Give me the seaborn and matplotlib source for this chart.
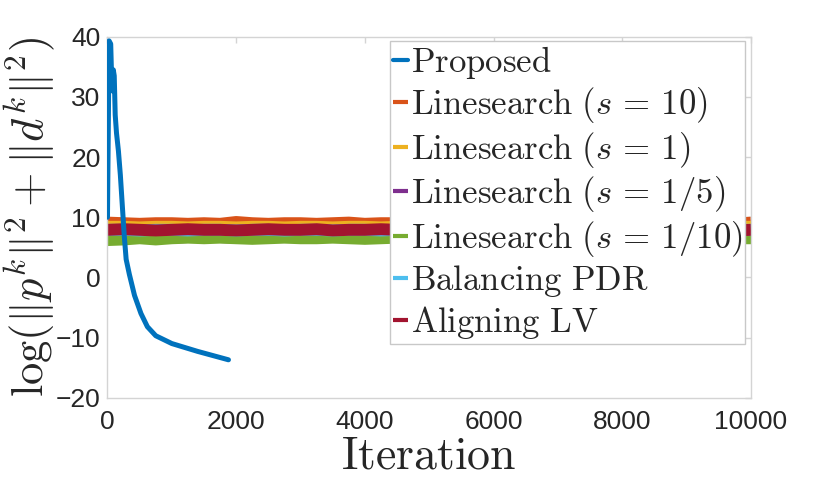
import numpy as np
import pandas as pd
import seaborn as sns
import matplotlib.pyplot as plt

# Proposed method:
prop_iter = [0, 25, 50, 70, 90, 105, 120, 140, 170, 200, 230, 260, 290, 340,
             420, 520, 620, 750, 1000, 1400, 1880]
prop_val = [10, 39.3, 38.8, 31, 34.5, 33.5, 27, 24, 21, 17, 12, 7, 3, 0.5,
            -3, -6, -8.2, -9.7, -11, -12.3, -13.7]

# the other methods, sampled every 250 iterations (band centres)
iters = list(range(0, 10001, 250))
ls10 = [9.1, 9.0, 8.9, 9.0, 9.0, 8.9, 9.0, 8.9, 9.2, 9.0, 8.9, 9.0, 9.0, 8.9,
        9.0, 9.1, 8.9, 9.0, 9.0, 9.1, 8.9, 9.0, 8.9, 9.0, 9.0, 8.9, 9.0, 9.1,
        9.0, 8.9, 9.0, 9.0, 8.9, 9.0, 9.1, 9.0, 8.9, 9.0, 9.0, 8.9, 9.1]
ls1 = [8.4, 8.4, 8.3, 8.4, 8.4, 8.3, 8.4, 8.4, 8.3, 8.4, 8.4, 8.3, 8.4, 8.4,
       8.3, 8.4, 8.4, 8.3, 8.4, 8.4, 8.3, 8.4, 8.4, 8.3, 8.4, 8.4, 8.3, 8.4,
       8.4, 8.3, 8.4, 8.4, 8.3, 8.4, 8.4, 8.3, 8.4, 8.4, 8.3, 8.4, 8.4]
ls15 = [6.8, 6.7, 6.7, 6.8, 6.6, 6.7, 6.8, 6.7, 6.6, 6.7, 6.8, 6.7, 6.7, 6.6,
        6.8, 6.7, 6.7, 6.8, 6.6, 6.7, 6.8, 6.7, 6.7, 6.6, 6.8, 6.7, 6.7, 6.8,
        6.6, 6.7, 6.8, 6.7, 6.7, 6.6, 6.8, 6.7, 6.7, 6.8, 6.6, 6.7, 6.7]
ls110 = [6.2, 6.3, 6.5, 6.3, 6.5, 6.6, 6.5, 6.6, 6.5, 6.4, 6.5, 6.6, 6.5, 6.5,
         6.6, 6.5, 6.4, 6.5, 6.6, 6.5, 6.5, 6.4, 6.6, 6.5, 6.5, 6.6, 6.5, 6.4,
         6.5, 6.6, 6.5, 6.5, 6.4, 6.6, 6.5, 6.5, 6.4, 6.5, 6.6, 6.5, 6.5]
bpdr = [7.9, 7.9, 7.8, 7.9, 7.9, 7.8, 7.9, 7.9, 7.8, 7.9, 7.9, 7.8, 7.9, 7.9,
        7.8, 7.9, 7.9, 7.8, 7.9, 7.9, 7.8, 7.9, 7.9, 7.8, 7.9, 7.9, 7.8, 7.9,
        7.9, 7.8, 7.9, 7.9, 7.8, 7.9, 7.9, 7.8, 7.9, 7.9, 7.8, 7.9, 7.9]
align = [7.9, 8.0, 7.9, 7.8, 7.9, 8.0, 7.9, 7.9, 7.8, 7.9, 8.0, 7.9, 7.9, 8.0,
         7.8, 7.9, 7.9, 8.0, 7.9, 7.8, 7.9, 8.0, 7.9, 7.9, 7.8, 7.9, 8.0, 7.9,
         7.9, 7.8, 7.9, 8.0, 7.9, 7.9, 7.8, 7.9, 8.0, 7.9, 7.9, 7.8, 7.9]

labels = [r'$\mathrm{Proposed}$',
          r'$\mathrm{Linesearch}\ (s\,=\,10)$',
          r'$\mathrm{Linesearch}\ (s\,=\,1)$',
          r'$\mathrm{Linesearch}\ (s\,=\,1/5)$',
          r'$\mathrm{Linesearch}\ (s\,=\,1/10)$',
          r'$\mathrm{Balancing\ PDR}$',
          r'$\mathrm{Aligning\ LV}$']
colors = ['#0072BD', '#D95319', '#EDB120', '#7E2F8E', '#77AC30', '#4DBEEE', '#A2142F']

sns.set_style('white')
plt.rcParams['font.family'] = ['Liberation Sans', 'DejaVu Sans']
plt.rcParams['mathtext.fontset'] = 'cm'

fig = plt.figure(figsize=(8.3, 4.91), dpi=100)
ax = fig.add_axes([0.1295, 0.19, 0.7753, 0.7353])

bands = [ls10, ls1, ls15, ls110, bpdr, align]
for vals, lab, col in zip(bands, labels[1:], colors[1:]):
    sns.lineplot(x=iters, y=vals, ax=ax, color=col, linewidth=8.6,
                 solid_capstyle='butt', label=lab)
sns.lineplot(x=prop_iter, y=prop_val, ax=ax, color=colors[0], linewidth=3.6,
             label=labels[0], zorder=5)

ax.set_xlim(0, 10000)
ax.set_ylim(-20, 40)
ax.set_xticks([0, 2000, 4000, 6000, 8000, 10000])
ax.set_yticks([-20, -10, 0, 10, 20, 30, 40])
ax.tick_params(direction='in', length=4.5, width=1, color='#d4d4d4',
               labelsize=19, labelcolor='#262626', top=True, right=True,
               pad=5)
ax.tick_params(axis='x', pad=9)
for sp in ax.spines.values():
    sp.set_color('#d4d4d4')
    sp.set_linewidth(1)

ax.set_xlabel(r'$\mathrm{Iteration}$', fontsize=33, labelpad=0)
ax.set_ylabel(r'$\log(\|p^k\|^2+\|d^k\|^2)$', fontsize=32)
ax.yaxis.set_label_coords(-0.078, 0.5)

handles, labs = ax.get_legend_handles_labels()
order = [labs.index(l) for l in labels]
leg = ax.legend([handles[i] for i in order], [labs[i] for i in order],
                loc='upper left', bbox_to_anchor=(0.4386, 0.988),
                borderaxespad=0, fontsize=25, handlelength=0.45,
                handletextpad=0.08, labelspacing=0.13, borderpad=0.08,
                fancybox=False, framealpha=1, edgecolor='#c8c8c8')
leg.get_frame().set_linewidth(1)
for ln in leg.get_lines():
    ln.set_linewidth(3)

fig.savefig('out.png', dpi=100)
